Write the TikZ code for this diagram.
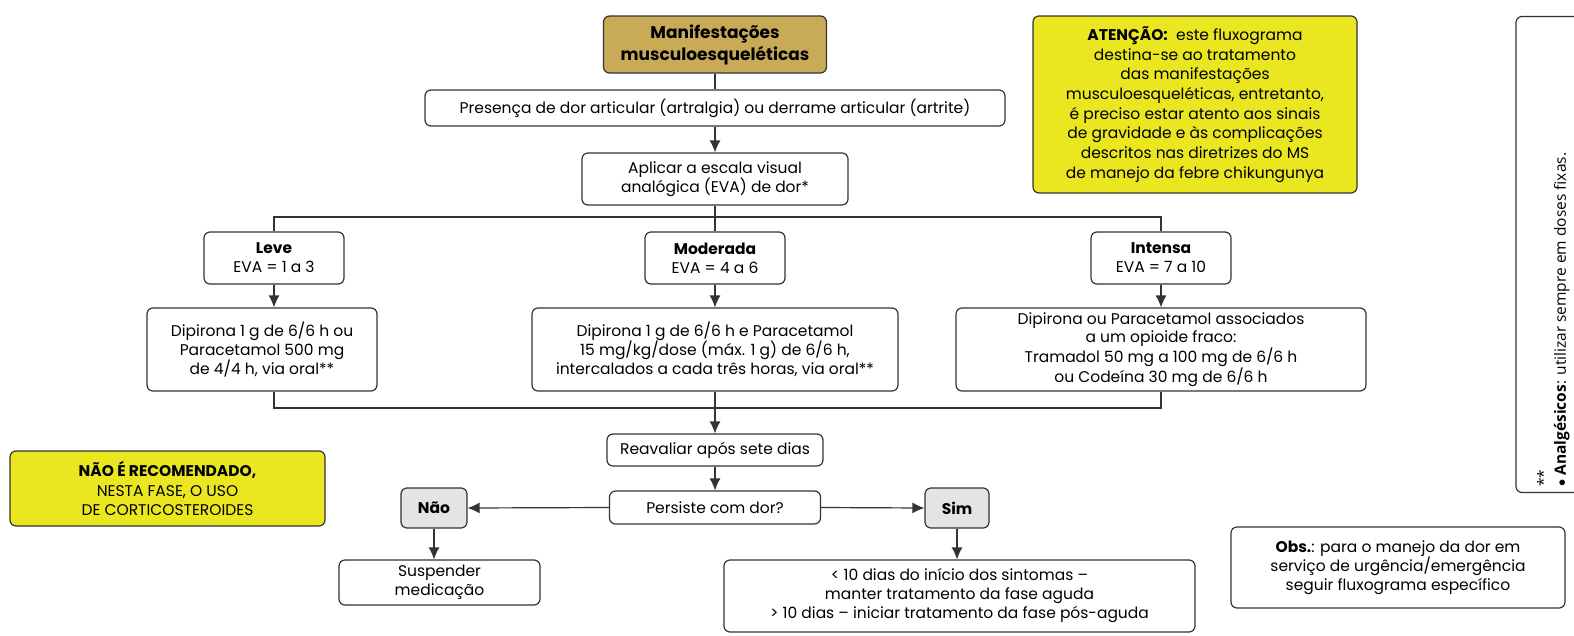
\documentclass[tikz,border=0pt]{standalone}
\usepackage{fontspec}
\setmainfont{Poppins}
\newfontfamily\notefont{Open Sans}
\usetikzlibrary{arrows.meta}

\definecolor{linegray}{HTML}{333333}
\definecolor{titletan}{HTML}{C9AA57}
\definecolor{warnyellow}{HTML}{EAE620}
\definecolor{choicegray}{HTML}{E4E4E4}

\tikzstyle{box} = [rectangle, rounded corners=6pt, draw=linegray, line width=1.2pt, fill=white, align=center, inner sep=0pt, font=\fontsize{15.5}{19}\selectfont]
\tikzstyle{title} = [box, fill=titletan, font=\fontsize{17}{22}\selectfont\bfseries]
\tikzstyle{warn} = [box, fill=warnyellow, font=\fontsize{15.5}{19.7}\selectfont]
\tikzstyle{choice} = [box, fill=choicegray, font=\fontsize{15.5}{19}\selectfont\bfseries]
\tikzstyle{line} = [line width=1.2pt, draw=linegray]
\tikzstyle{arrow} = [line, -{Latex[length=12pt,width=11pt]}]

\begin{document}
\begin{tikzpicture}[x=1pt, y=-1pt]
  \useasboundingbox (0,0) rectangle (1574,635);

  % main column
  \node[title, minimum width=223pt, minimum height=57pt] (top) at (715,44.5) {Manifestações\\musculoesqueléticas};
  \node[box, minimum width=580pt, minimum height=36pt] (pres) at (715,108) {Presença de dor articular (artralgia) ou derrame articular (artrite)};
  \node[box, minimum width=266pt, minimum height=52pt] (apl) at (715,179) {Aplicar a escala visual\\analógica (EVA) de dor*};

  % pain levels
  \node[box, minimum width=140pt, minimum height=52pt] (leve) at (274,258) {\textbf{Leve}\\EVA = 1 a 3};
  \node[box, minimum width=140pt, minimum height=52pt] (mod) at (715,258) {\textbf{Moderada}\\EVA = 4 a 6};
  \node[box, minimum width=140pt, minimum height=52pt] (int) at (1161,258) {\textbf{Intensa}\\EVA = 7 a 10};

  % treatments
  \node[box, minimum width=230pt, minimum height=83pt] (dleve) at (262,349.5) {Dipirona 1 g de 6/6 h ou\\Paracetamol 500 mg\\de 4/4 h, via oral**};
  \node[box, minimum width=366pt, minimum height=83pt] (dmod) at (715,349.5) {Dipirona 1 g de 6/6 h e Paracetamol\\15 mg/kg/dose (máx. 1 g) de 6/6 h,\\intercalados a cada três horas, via oral**};
  \node[box, minimum width=410pt, minimum height=83pt, font=\fontsize{15.5}{18.3}\selectfont] (dint) at (1161,349.5) {Dipirona ou Paracetamol associados\\a um opioide fraco:\\Tramadol 50 mg a 100 mg de 6/6 h\\ou Codeína 30 mg de 6/6 h};

  % reassessment
  \node[box, minimum width=216pt, minimum height=32pt] (reav) at (715,450) {Reavaliar após sete dias};
  \node[box, minimum width=211pt, minimum height=33pt] (pers) at (715,507.5) {Persiste com dor?};
  \node[choice, minimum width=66pt, minimum height=40pt] (nao) at (434,508) {Não};
  \node[choice, minimum width=64pt, minimum height=40pt] (sim) at (957,508) {Sim};
  \node[box, minimum width=201pt, minimum height=45pt] (susp) at (439.5,582.5) {Suspender\\medicação};
  \node[box, minimum width=471pt, minimum height=72pt] (fase) at (959.5,596) {< 10 dias do início dos sintomas --\\manter tratamento da fase aguda\\> 10 dias -- iniciar tratamento da fase pós-aguda};

  % side notes
  \node[warn, minimum width=315pt, minimum height=75pt] (rec) at (167.5,488.5) {\textbf{NÃO É RECOMENDADO,}\\NESTA FASE, O USO\\DE CORTICOSTEROIDES};
  \node[warn, minimum width=324pt, minimum height=177pt] (aten) at (1195,104.5) {\textbf{ATENÇÃO:}~ este fluxograma\\destina-se ao tratamento\\das manifestações\\musculoesqueléticas, entretanto,\\é preciso estar atento aos sinais\\de gravidade e às complicações\\descritos nas diretrizes do MS\\de manejo da febre chikungunya};
  \node[box, minimum width=334pt, minimum height=81pt] (obs) at (1398,567.5) {\textbf{Obs.}: para o manejo da dor em\\serviço de urgência/emergência\\seguir fluxograma específico};
  \node[box, minimum width=90pt, minimum height=476pt] (notes) at (1561,254.5) {};
  \node[rotate=90, anchor=north west, align=left, inner sep=0pt, font=\notefont\fontsize{15.5}{17}\selectfont] (notetxt) at (1537,487) {**\\$\bullet$ \textbf{Analgésicos}: utilizar sempre em doses fixas.};

  % connectors
  \coordinate (split) at (715,217);
  \coordinate (merge) at (715,408);
  \draw[line] (top.south) -- (pres.north);
  \draw[arrow] (pres.south) -- (apl.north);
  \draw[line] (apl.south) -- (split);
  \draw[line] (leve.north) |- (split) -| (int.north);
  \draw[line] (split) -- (mod.north);
  \draw[arrow] (leve.south) -- (leve.south |- dleve.north);
  \draw[arrow] (mod.south) -- (dmod.north);
  \draw[arrow] (int.south) -- (dint.north);
  \draw[line] (leve.south |- dleve.south) |- (merge) -| (dint.south);
  \draw[arrow] (dmod.south) -- (reav.north);
  \draw[arrow] (reav.south) -- (pers.north);
  \draw[arrow] (pers.west) -- (nao.east);
  \draw[arrow] (pers.east) -- (sim.west);
  \draw[arrow] (nao.south) -- (nao.south |- susp.north);
  \draw[arrow] (sim.south) -- (sim.south |- fase.north);

\end{tikzpicture}
\end{document}
